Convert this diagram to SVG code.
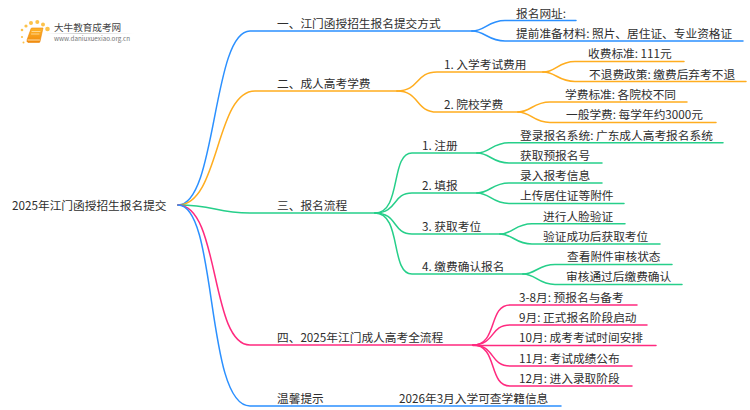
<svg xmlns="http://www.w3.org/2000/svg" width="750" height="410" viewBox="0 0 750 410">
<defs><linearGradient id="lg" x1="0" x2="1" y1="0" y2="0"><stop offset="0" stop-color="#ccc" stop-opacity="0"/><stop offset=".4" stop-color="#ccc"/><stop offset="1" stop-color="#ccc" stop-opacity="0"/></linearGradient>
<linearGradient id="bk" x1="0" x2="0" y1="0" y2="1"><stop offset="0" stop-color="#ffb52a"/><stop offset="1" stop-color="#f08a0c"/></linearGradient></defs>
<style>
text{font-family:"Noto Sans CJK SC","Noto Sans",sans-serif;font-size:11.7px;fill:#2e2e2e}
path{fill:none;stroke-width:1.5;stroke-linecap:round}
.b{stroke:#2b90ff}.o{stroke:#ffad1f}.g{stroke:#26cf8a}.p{stroke:#ff2a7f}
</style>
<rect width="750" height="410" fill="#fff"/>
<g id="connectors">
<path class="b" d="M178 205C217 205 212 31 250 31H472"/>
<path class="o" d="M178 205C220 205 215 91 255 91H397"/>
<path class="g" d="M178 205C215 205 215 213 250 213H375"/>
<path class="p" d="M178 205C220 205 210 345 250 345H473"/>
<path class="b" d="M178 205C218 205 205 406 250 406H561"/>
<path class="b" d="M472 31C485 31 488 20.500 505 20.500H576"/>
<path class="b" d="M472 31C485 31 488 41 505 41H743"/>
<path class="o" d="M397 91C420 91 415 72 437 72H543"/>
<path class="o" d="M397 91C420 91 415 112 437 112H518"/>
<path class="o" d="M543 72C556 72 558 61.500 575 61.500H684"/>
<path class="o" d="M543 72C556 72 558 81.500 575 81.500H746"/>
<path class="o" d="M518 112C531 112 533 102 550 102H687"/>
<path class="o" d="M518 112C531 112 533 122.500 550 122.500H716"/>
<path class="g" d="M375 213C402 213 390 153 412 153H477"/>
<path class="g" d="M375 213C398 213 392 193 412 193H477"/>
<path class="g" d="M375 213C398 213 392 234 412 234H500"/>
<path class="g" d="M375 213C402 213 390 274 412 274H523"/>
<path class="g" d="M477 153C490 153 492 142.700 509 142.700H723"/>
<path class="g" d="M477 153C490 153 492 163 509 163H602"/>
<path class="g" d="M477 193C490 193 492 183 509 183H602"/>
<path class="g" d="M477 193C490 193 492 203.500 509 203.500H624"/>
<path class="g" d="M500 234C513 234 515 223.700 532 223.700H625"/>
<path class="g" d="M500 234C513 234 515 244 532 244H660"/>
<path class="g" d="M523 274C536 274 538 264.500 555 264.500H672"/>
<path class="g" d="M523 274C536 274 538 284.500 555 284.500H682"/>
<path class="p" d="M473 345C498 345 488 305 510 305H637"/>
<path class="p" d="M473 345C495 345 490 325 510 325H647"/>
<path class="p" d="M473 345.500H656"/>
<path class="p" d="M473 345C495 345 490 366 510 366H632"/>
<path class="p" d="M473 345C498 345 488 386 510 386H632"/>
</g>
<g id="logo">
<g fill="#fcc24a"><circle cx="22" cy="30" r="1.300"/><circle cx="26" cy="26" r="1.600"/><circle cx="22" cy="37" r="1.100"/><circle cx="23.500" cy="42.500" r="1"/><circle cx="31" cy="23" r="2"/><circle cx="37.300" cy="22" r="2"/><circle cx="43" cy="24.500" r="2"/><circle cx="47.500" cy="29" r="2.300"/></g>
<path d="M31 28.500Q31 28 32 28H43L40 41.500Q40 42.500 39 42.500H28Q26.500 42 27 40Z" style="fill:url(#bk);stroke:#ec880c;stroke-width:.6"/>
<path d="M32 31.500H40M31.500 34H39" style="stroke:#ffe2a8;stroke-width:.8"/>
<path d="M28 40H39.500" style="stroke:#fff3d8;stroke-width:.8"/>
<text x="54" y="31" style="font-size:9.600px;fill:#444">大牛教育成考网</text>
<rect x="46" y="33" width="88" height="1" fill="url(#lg)"/>
<text x="54" y="41" style="font-size:6.300px;fill:#777">www.daniuxuexiao.org.cn</text>
</g>
<g id="root"><text x="12" y="209.500">2025年江门函授招生报名提交</text></g>
<g id="n1"><text x="277" y="27.800">一、江门函授招生报名提交方式</text></g>
<g id="n2"><text x="277" y="88">二、成人高考学费</text></g>
<g id="n3"><text x="277" y="209.800">三、报名流程</text></g>
<g id="n4"><text x="277" y="341.800">四、2025年江门成人高考全流程</text></g>
<g id="n5"><text x="277" y="402.800">温馨提示</text></g>
<g id="n1a"><text x="516" y="17.500">报名网址:</text></g>
<g id="n1b"><text x="516" y="37.800">提前准备材料: 照片、居住证、专业资格证</text></g>
<g id="n21"><text x="444" y="68.800">1. 入学考试费用</text></g>
<g id="n22"><text x="444" y="108.800">2. 院校学费</text></g>
<g id="n211"><text x="588" y="58.300">收费标准: 111元</text></g>
<g id="n212"><text x="589" y="78.500">不退费政策: 缴费后弃考不退</text></g>
<g id="n221"><text x="565" y="98.800">学费标准: 各院校不同</text></g>
<g id="n222"><text x="566" y="119.300">一般学费: 每学年约3000元</text></g>
<g id="n31"><text x="422" y="149.800">1. 注册</text></g>
<g id="n32"><text x="422" y="189.800">2. 填报</text></g>
<g id="n33"><text x="422" y="230.800">3. 获取考位</text></g>
<g id="n34"><text x="422" y="270.800">4. 缴费确认报名</text></g>
<g id="n311"><text x="520" y="139.500">登录报名系统: 广东成人高考报名系统</text></g>
<g id="n312"><text x="520" y="159.800">获取预报名号</text></g>
<g id="n321"><text x="520" y="179.800">录入报考信息</text></g>
<g id="n322"><text x="520" y="200.300">上传居住证等附件</text></g>
<g id="n331"><text x="543" y="220.500">进行人脸验证</text></g>
<g id="n332"><text x="543" y="240.800">验证成功后获取考位</text></g>
<g id="n341"><text x="567" y="261.300">查看附件审核状态</text></g>
<g id="n342"><text x="566" y="281.300">审核通过后缴费确认</text></g>
<g id="n41"><text x="519" y="301.800">3-8月: 预报名与备考</text></g>
<g id="n42"><text x="519" y="321.800">9月: 正式报名阶段启动</text></g>
<g id="n43"><text x="519" y="342.300">10月: 成考考试时间安排</text></g>
<g id="n44"><text x="519" y="362.800">11月: 考试成绩公布</text></g>
<g id="n45"><text x="519" y="382.800">12月: 进入录取阶段</text></g>
<g id="n51"><text x="399" y="402.800">2026年3月入学可查学籍信息</text></g>
</svg>
